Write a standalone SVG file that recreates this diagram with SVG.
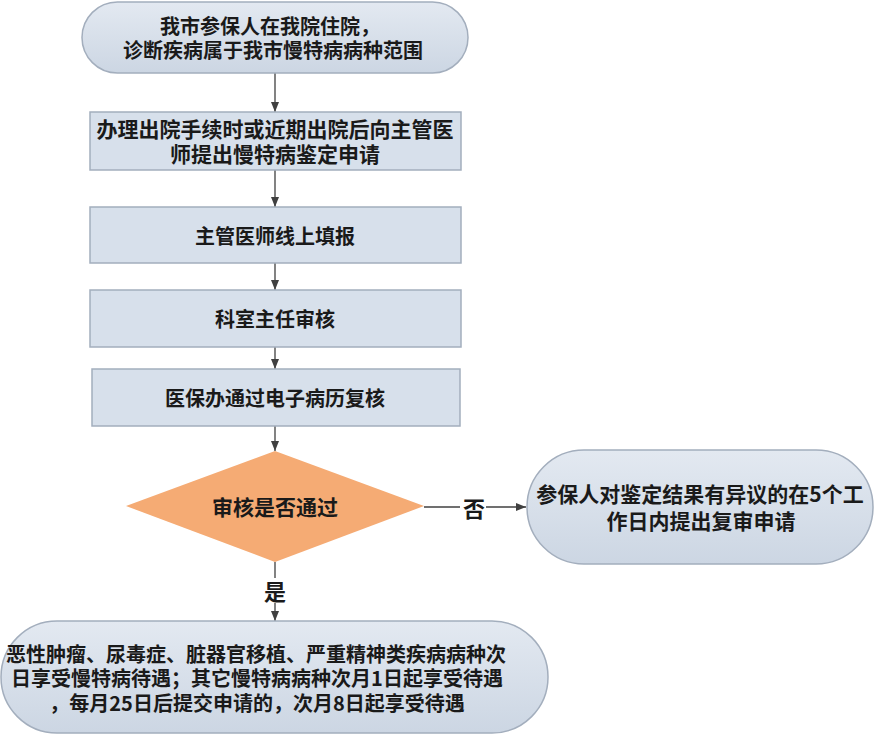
<svg xmlns="http://www.w3.org/2000/svg" width="877" height="735" viewBox="0 0 877 735">
<defs>
<linearGradient id="g" x1="0" y1="0" x2="0" y2="1">
<stop offset="0" stop-color="#e3e9f1"/>
<stop offset="1" stop-color="#ccd6e3"/>
</linearGradient>
<marker id="ah" viewBox="0 0 10 10" refX="10" refY="5" markerWidth="10" markerHeight="10" markerUnits="userSpaceOnUse" orient="auto">
<path d="M0,1 L10,5 L0,9 Z" fill="#404040"/>
</marker>
</defs>
<style>
.n{fill:url(#g);stroke:#a3aebd;stroke-width:1.5}
.b{fill:#d7e0eb;stroke:#a3aebd;stroke-width:1.5}
.d{fill:#f5ab74;stroke:none}
.t{font-family:"Noto Sans CJK SC","Noto Sans",sans-serif;font-weight:bold;font-size:20px;fill:#1a1a1a;text-anchor:middle;dominant-baseline:central}
.c{stroke:#404040;stroke-width:1.3;fill:none}
</style>
<rect width="877" height="735" fill="#ffffff"/>
<g id="connectors">
<line class="c" x1="275" y1="73" x2="275" y2="112" marker-end="url(#ah)"/>
<line class="c" x1="275" y1="170" x2="275" y2="207" marker-end="url(#ah)"/>
<line class="c" x1="275" y1="263" x2="275" y2="290" marker-end="url(#ah)"/>
<line class="c" x1="275" y1="347" x2="275" y2="369" marker-end="url(#ah)"/>
<line class="c" x1="275" y1="426" x2="275" y2="451" marker-end="url(#ah)"/>
<line class="c" x1="424" y1="507" x2="460" y2="507"/>
<line class="c" x1="486" y1="507" x2="526" y2="507" marker-end="url(#ah)"/>
<line class="c" x1="275" y1="562" x2="275" y2="578"/>
<line class="c" x1="275" y1="603" x2="275" y2="621" marker-end="url(#ah)"/>
<text class="t" x="474" y="507" style="font-size:22px">否</text>
<text class="t" x="275" y="590" style="font-size:22px">是</text>
</g>
<g id="n1">
<rect class="n" x="82" y="2" width="386" height="71" rx="35.5"/>
<text class="t"><tspan x="270" y="25">我市参保人在我院住院，</tspan><tspan x="273" y="49">诊断疾病属于我市慢特病病种范围</tspan></text>
</g>
<g id="n2">
<rect class="b" x="90" y="112" width="371" height="58"/>
<text class="t" style="font-size:21px"><tspan x="275" y="128">办理出院手续时或近期出院后向主管医</tspan><tspan x="275" y="153">师提出慢特病鉴定申请</tspan></text>
</g>
<g id="n3">
<rect class="b" x="90" y="207" width="371" height="56"/>
<text class="t" x="275" y="235">主管医师线上填报</text>
</g>
<g id="n4">
<rect class="b" x="90" y="290" width="371" height="57"/>
<text class="t" x="275" y="318">科室主任审核</text>
</g>
<g id="n5">
<rect class="b" x="92" y="369" width="368" height="57"/>
<text class="t" x="275" y="397">医保办通过电子病历复核</text>
</g>
<g id="n6">
<polygon class="d" points="275,451 424,506 275,562 126,506"/>
<text class="t" x="275" y="506" style="font-size:21px">审核是否通过</text>
</g>
<g id="n7">
<rect class="n" x="527" y="450" width="346" height="114" rx="57"/>
<text class="t" style="font-size:21px"><tspan x="700" y="493">参保人对鉴定结果有异议的在5个工</tspan><tspan x="701" y="520">作日内提出复审申请</tspan></text>
</g>
<g id="n8">
<rect class="n" x="1" y="621" width="547" height="112" rx="56"/>
<text class="t"><tspan x="256" y="653">恶性肿瘤、尿毒症、脏器官移植、严重精神类疾病病种次</tspan><tspan x="257" y="677">日享受慢特病待遇；其它慢特病病种次月1日起享受待遇</tspan><tspan x="257" y="702">，每月25日后提交申请的，次月8日起享受待遇</tspan></text>
</g>
</svg>
